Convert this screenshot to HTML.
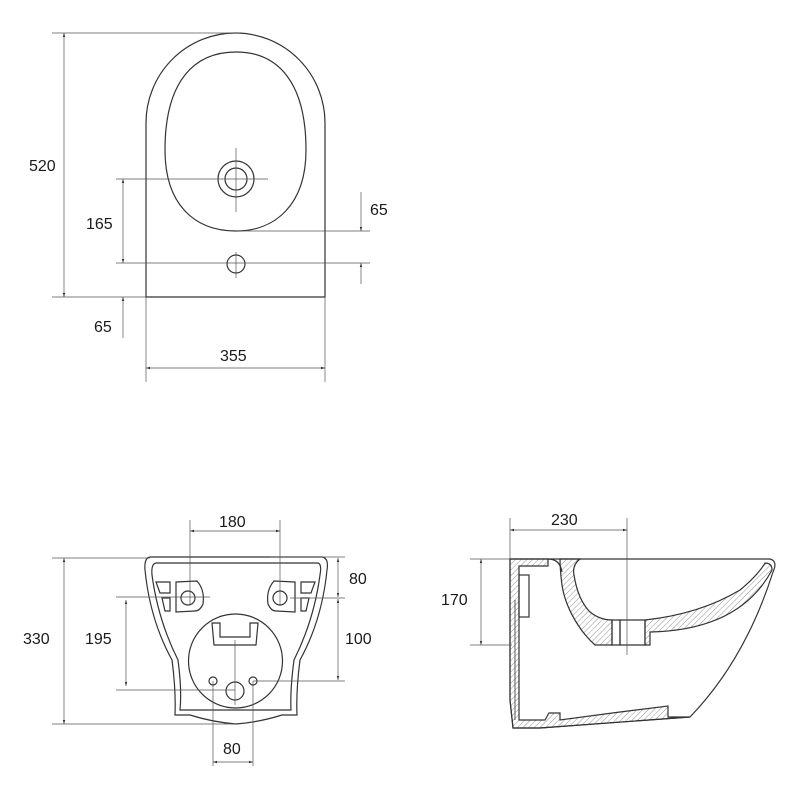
<!DOCTYPE html>
<html><head><meta charset="utf-8"><style>
html,body{margin:0;padding:0;background:#fff;}
svg{display:block}
text{font-family:"Liberation Sans",sans-serif;font-size:16px;fill:#1a1a1a;}
</style></head><body>
<svg width="800" height="800" viewBox="0 0 800 800" xmlns="http://www.w3.org/2000/svg">
<defs>
<marker id="a" viewBox="0 0 10 10" refX="10" refY="5" markerWidth="6" markerHeight="6" orient="auto-start-reverse"><path d="M0,2 L10,5 L0,8 z" fill="#333"/></marker>
<pattern id="h" width="4" height="4" patternUnits="userSpaceOnUse" patternTransform="rotate(45)"><line x1="0" y1="0" x2="0" y2="4" stroke="#777" stroke-width="0.8"/></pattern>
</defs>
<g fill="none" stroke="#333" stroke-width="1.2">
<path d="M146,297 L146,123 A89.5,90 0 0 1 325,123 L325,297 Z"/>
<path d="M165,150 C165,80 195,52 236,52 C280,52 306,85 306,150 C306,205 275,231 236,231 C195,231 165,205 165,150 Z"/>
<circle cx="236" cy="179" r="18"/><circle cx="236" cy="179" r="11"/>
<circle cx="236" cy="264" r="9"/>
</g>
<g fill="none" stroke="#555" stroke-width="0.7">
<line x1="236" y1="148" x2="236" y2="212"/><line x1="116" y1="179" x2="268" y2="179"/>
<line x1="236" y1="252" x2="236" y2="278"/><line x1="116" y1="263" x2="370" y2="263"/>
<line x1="236" y1="231" x2="370" y2="231"/>
<line x1="52" y1="33" x2="240" y2="33"/><line x1="52" y1="297" x2="146" y2="297"/>
<line x1="64" y1="33" x2="64" y2="297" marker-start="url(#a)" marker-end="url(#a)"/>
<line x1="123" y1="179" x2="123" y2="263" marker-start="url(#a)" marker-end="url(#a)"/>
<line x1="361" y1="192" x2="361" y2="231" marker-end="url(#a)"/>
<line x1="361" y1="263" x2="361" y2="284" marker-start="url(#a)"/>
<line x1="123" y1="338" x2="123" y2="297" marker-end="url(#a)"/>
<line x1="146" y1="297" x2="146" y2="382"/><line x1="325" y1="297" x2="325" y2="382"/>
<line x1="146" y1="368" x2="325" y2="368" marker-start="url(#a)" marker-end="url(#a)"/>
</g>
<text x="29" y="171">520</text><text x="86" y="229">165</text><text x="370" y="215">65</text>
<text x="94" y="332">65</text><text x="220" y="361">355</text>

<g fill="none" stroke="#333" stroke-width="1.2">
<path d="M150,557 L322,557 Q329,558 327,570 Q322,620 300,660 Q296,690 297,715 L282,715 Q260,722 236,724 Q212,722 190,715 L175,715 Q176,690 172,660 Q150,620 145,570 Q144,558 150,557 Z"/>
<path d="M156,563 L318,563 Q322,564 320,575 Q314,620 294,660 Q290,690 291,710 L180,710 Q182,690 178,660 Q158,620 152,575 Q151,564 156,563 Z"/>
<circle cx="235.5" cy="661" r="47"/>
<path d="M212,623 L220,623 L220,637 L250,637 L250,623 L258,623 L256,645 L214,645 Z"/>
<path d="M176,582 L197,581 Q205,590 203,604 Q200,611 195,611 L176,612 Z"/><circle cx="188" cy="598" r="7"/>
<path d="M295,582 L274,581 Q266,590 268,604 Q271,611 276,611 L295,612 Z"/><circle cx="280" cy="598" r="7"/>
<path d="M156,582 L170,582 L170,593 L160,593 Z"/><path d="M162,598 L170,598 L170,611 L165,611 Z"/>
<path d="M315,582 L301,582 L301,593 L311,593 Z"/><path d="M309,598 L301,598 L301,611 L306,611 Z"/>
<circle cx="213" cy="681" r="4"/><circle cx="253" cy="681" r="4"/><circle cx="235" cy="691" r="9"/>
</g>
<g fill="none" stroke="#555" stroke-width="0.7">
<line x1="190" y1="520" x2="190" y2="605"/><line x1="280" y1="520" x2="280" y2="605"/>
<line x1="190" y1="531" x2="280" y2="531" marker-start="url(#a)" marker-end="url(#a)"/>
<line x1="52" y1="558" x2="150" y2="558"/><line x1="52" y1="724" x2="236" y2="724"/>
<line x1="64" y1="558" x2="64" y2="724" marker-start="url(#a)" marker-end="url(#a)"/>
<line x1="116" y1="597" x2="210" y2="597"/><line x1="116" y1="690" x2="235" y2="690"/>
<line x1="126" y1="600" x2="126" y2="686" marker-start="url(#a)" marker-end="url(#a)"/>
<line x1="270" y1="557" x2="345" y2="557"/><line x1="290" y1="598" x2="345" y2="598"/><line x1="253" y1="681" x2="345" y2="681"/>
<line x1="338" y1="558" x2="338" y2="597" marker-start="url(#a)" marker-end="url(#a)"/>
<line x1="338" y1="599" x2="338" y2="680" marker-start="url(#a)" marker-end="url(#a)"/>
<line x1="235" y1="640" x2="235" y2="705"/>
<line x1="213" y1="681" x2="213" y2="766"/><line x1="253" y1="681" x2="253" y2="766"/>
<line x1="213" y1="762" x2="253" y2="762" marker-start="url(#a)" marker-end="url(#a)"/>
</g>
<text x="219" y="527">180</text><text x="23" y="644">330</text><text x="85" y="644">195</text>
<text x="349" y="584">80</text><text x="345" y="644">100</text><text x="223" y="754">80</text>

<g stroke="#333" stroke-width="1.2">
<path d="M510,559 L770,559 Q778,561 773,572 Q745,660 690,717 L540,728 L513,728 L510,700 Z" fill="none"/>
<path d="M510,559 L548,559 L548,566 L519,566 L519,720 L545,720 L549,713 L560,713 L560,720 L620,712 L668,706 L668,717 L690,717 L540,728 L513,728 L510,700 Z" fill="url(#h)"/>
<path d="M560,559 L580,559 Q572,565 574,575 Q578,600 590,612 Q600,620 612,620 L612,645 L595,645 Q585,636 578,625 Q565,605 562,585 Q560,570 560,559 Z" fill="url(#h)"/>
<path d="M612,620 L620,620 L620,645 L612,645 Z" fill="none"/>
<path d="M620,620 L645,620 L645,645 L620,645 Z" fill="none"/>
<path d="M645,620 Q700,614 740,590 Q758,575 765,563 Q772,563 772,570 Q740,630 650,632 L650,645 L645,645 Z" fill="url(#h)"/>
<path d="M548,559 Q560,559 562,572" fill="none"/>
<rect x="519" y="575" width="10" height="42" fill="none"/>
<line x1="515" y1="600" x2="515" y2="720" stroke-width="0.8"/>
</g>
<g fill="none" stroke="#555" stroke-width="0.7">
<line x1="510" y1="518" x2="510" y2="559"/><line x1="627" y1="518" x2="627" y2="655"/>
<line x1="510" y1="530" x2="627" y2="530" marker-start="url(#a)" marker-end="url(#a)"/>
<line x1="470" y1="559" x2="510" y2="559"/><line x1="470" y1="645" x2="512" y2="645"/>
<line x1="481" y1="559" x2="481" y2="645" marker-start="url(#a)" marker-end="url(#a)"/>
</g>
<text x="551" y="525">230</text><text x="441" y="605">170</text>
</svg>
</body></html>
